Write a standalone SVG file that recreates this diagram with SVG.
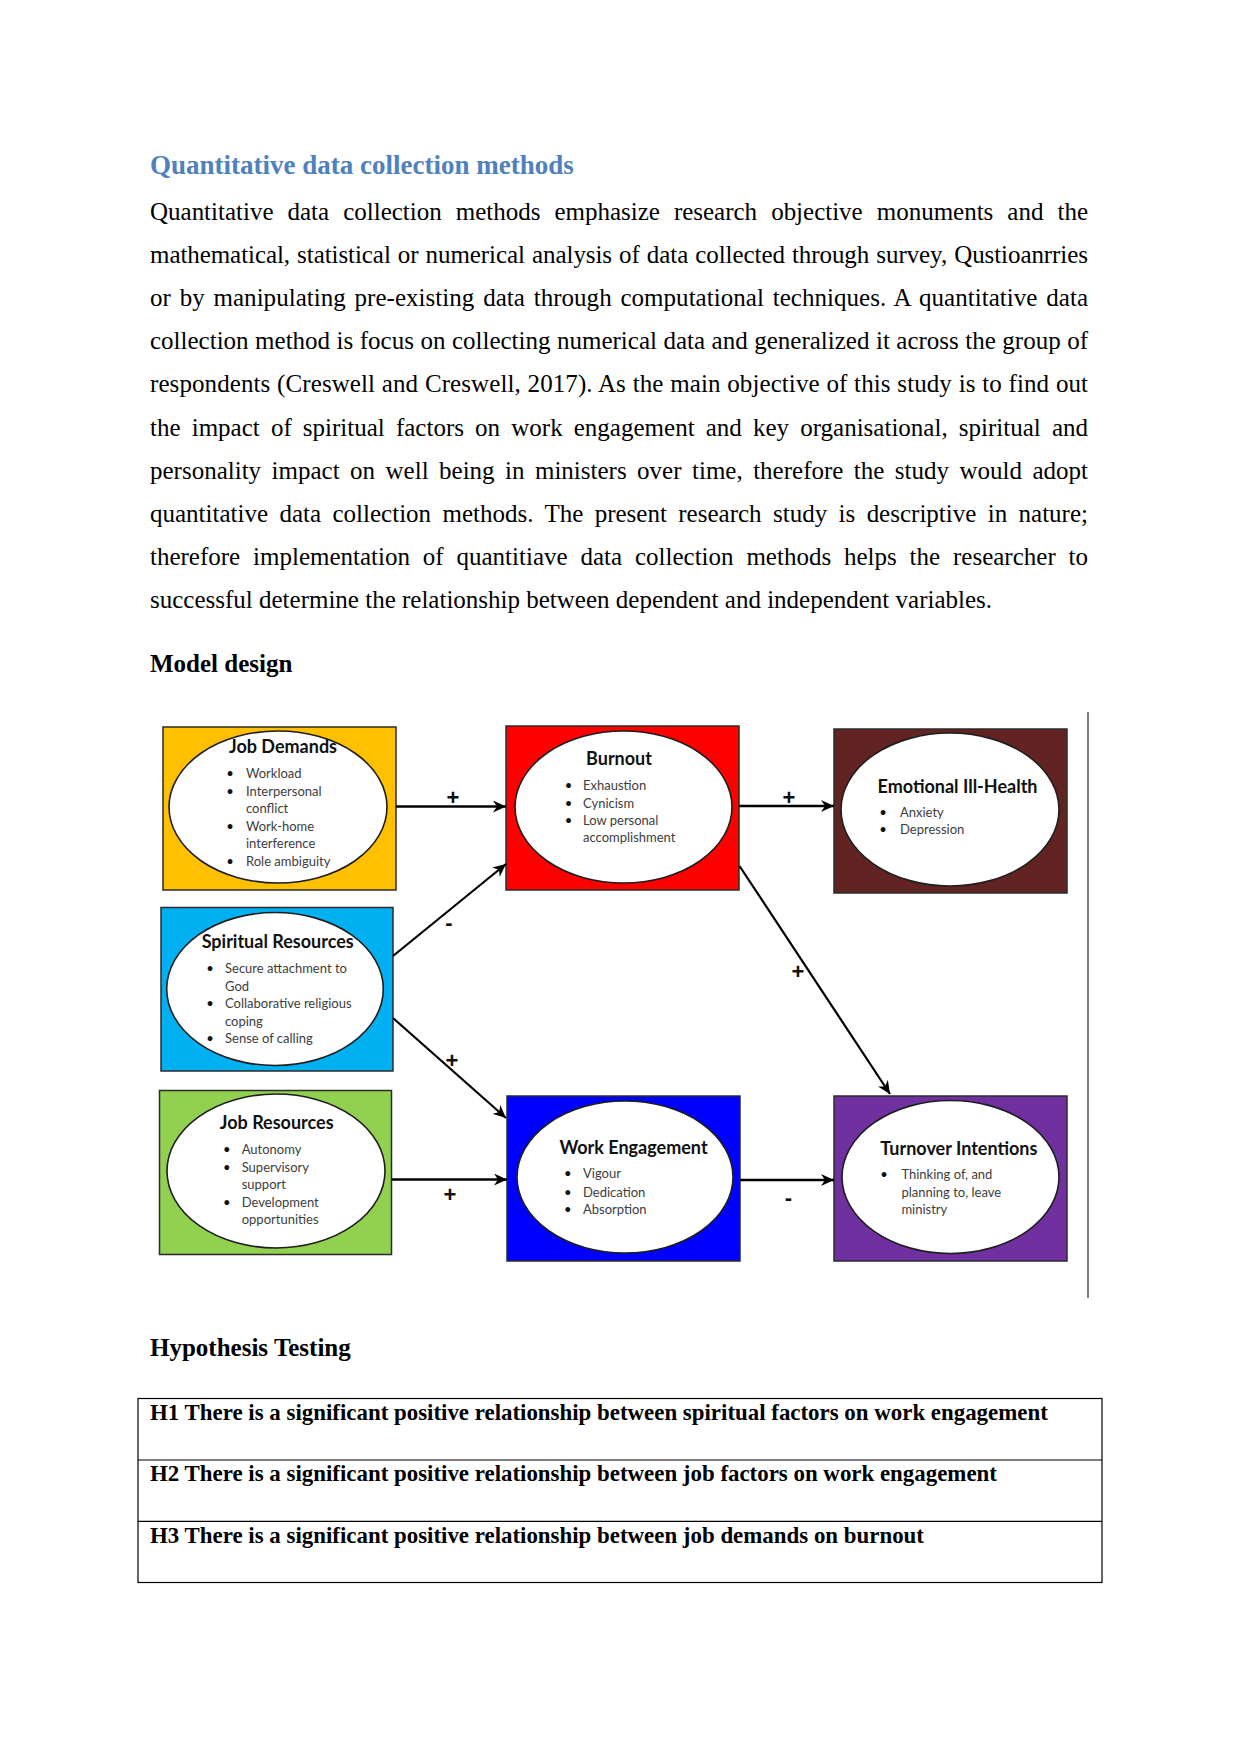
<svg xmlns="http://www.w3.org/2000/svg" width="1241" height="1754" viewBox="0 0 1241 1754">
<style>
.h1{font-family:"Liberation Serif","Times New Roman",serif;font-size:27px;font-weight:bold;fill:#4F81BD}
.body{font-family:"Liberation Serif","Times New Roman",serif;font-size:25px;fill:#000}
.sub{font-family:"Liberation Serif","Times New Roman",serif;font-size:25px;font-weight:bold;fill:#000}
.hyp{font-family:"Liberation Serif","Times New Roman",serif;font-size:22.9px;font-weight:bold;fill:#000}
.box{stroke:#2b2b2b;stroke-width:1.5}
.ell{fill:#fff;stroke:#1e1e1e;stroke-width:1.6}
.ttl{font-family:Lato,"Noto Sans",sans-serif;font-size:18px;font-weight:bold;fill:#111;text-anchor:middle}
.itm{font-family:Lato,"Noto Sans",sans-serif;font-size:13px;fill:#3d3d3d}
.bul{font-family:Lato,"Noto Sans",sans-serif;font-size:13px;fill:#111;text-anchor:middle}
.lbl{font-family:"Liberation Sans",Arial,sans-serif;font-size:22px;font-weight:bold;fill:#111;text-anchor:middle}
.arr{stroke:#000;fill:none;marker-end:url(#ah)}
.tbl{fill:none;stroke:#000;stroke-width:1.2}
</style>
<defs>
<marker id="ah" markerUnits="userSpaceOnUse" markerWidth="14" markerHeight="12" refX="13" refY="6" orient="auto">
<path d="M0,0 L13,6 L0,12 L4,6 z" fill="#000"/>
</marker>
</defs>
<rect width="1241" height="1754" fill="#fff"/>

<text class="h1" x="150" y="174">Quantitative data collection methods</text>

<g id="paragraph">
<text class="body" x="150" y="220" word-spacing="7.8" textLength="938" lengthAdjust="spacing">Quantitative data collection methods emphasize research objective monuments and the</text>
<text class="body" x="150" y="263.1" word-spacing="0.9" textLength="938" lengthAdjust="spacing">mathematical, statistical or numerical analysis of data collected through survey, Qustioanrries</text>
<text class="body" x="150" y="306.2" word-spacing="2.5" textLength="938" lengthAdjust="spacing">or by manipulating pre-existing data through computational techniques. A quantitative data</text>
<text class="body" x="150" y="349.3" word-spacing="0.24" textLength="938" lengthAdjust="spacing">collection method is focus on collecting numerical data and generalized it across the group of</text>
<text class="body" x="150" y="392.4" word-spacing="0.38" textLength="938" lengthAdjust="spacing">respondents (Creswell and Creswell, 2017). As the main objective of this study is to find out</text>
<text class="body" x="150" y="435.5" word-spacing="4.86" textLength="938" lengthAdjust="spacing">the impact of spiritual factors on work engagement and key organisational, spiritual and</text>
<text class="body" x="150" y="478.6" word-spacing="4.2" textLength="938" lengthAdjust="spacing">personality impact on well being in ministers over time, therefore the study would adopt</text>
<text class="body" x="150" y="521.7" word-spacing="5.15" textLength="938" lengthAdjust="spacing">quantitative data collection methods. The present research study is descriptive in nature;</text>
<text class="body" x="150" y="564.8" word-spacing="6.6" textLength="938" lengthAdjust="spacing">therefore implementation of quantitiave data collection methods helps the researcher to</text>
<text class="body" x="150" y="607.9">successful determine the relationship between dependent and independent variables.</text>
</g>

<text class="sub" x="150" y="672">Model design</text>

<line x1="1088" y1="712" x2="1088" y2="1298" stroke="#555" stroke-width="1.5"/>

<g id="job-demands">
<rect class="box" x="163" y="727" width="233" height="163" fill="#FFC000"/>
<ellipse class="ell" cx="278" cy="807" rx="109" ry="76"/>
<text class="ttl" x="283" y="753">Job Demands</text>
<text class="bul" x="230" y="778">•</text><text class="itm" x="246" y="778">Workload</text>
<text class="bul" x="230" y="795.5">•</text><text class="itm" x="246" y="795.5">Interpersonal</text>
<text class="itm" x="246" y="813">conflict</text>
<text class="bul" x="230" y="830.5">•</text><text class="itm" x="246" y="830.5">Work-home</text>
<text class="itm" x="246" y="848">interference</text>
<text class="bul" x="230" y="865.5">•</text><text class="itm" x="246" y="865.5">Role ambiguity</text>
</g>

<g id="burnout">
<rect class="box" x="506" y="726" width="233" height="164" fill="#FF0000"/>
<ellipse class="ell" cx="623.5" cy="807" rx="108.5" ry="76"/>
<text class="ttl" x="619" y="765">Burnout</text>
<text class="bul" x="568.5" y="790">•</text><text class="itm" x="583" y="790">Exhaustion</text>
<text class="bul" x="568.5" y="807.5">•</text><text class="itm" x="583" y="807.5">Cynicism</text>
<text class="bul" x="568.5" y="825">•</text><text class="itm" x="583" y="825">Low personal</text>
<text class="itm" x="583" y="842">accomplishment</text>
</g>

<g id="emotional-ill-health">
<rect class="box" x="834" y="729" width="233" height="164" fill="#622422"/>
<ellipse class="ell" cx="950" cy="809.5" rx="109" ry="76.5"/>
<text class="ttl" x="957.5" y="793">Emotional Ill-Health</text>
<text class="bul" x="883" y="816.5">•</text><text class="itm" x="900" y="816.5">Anxiety</text>
<text class="bul" x="883" y="834">•</text><text class="itm" x="900" y="834">Depression</text>
</g>

<g id="spiritual-resources">
<rect class="box" x="161" y="907.5" width="232" height="163.5" fill="#00B0F0"/>
<ellipse class="ell" cx="275" cy="989" rx="108.3" ry="76.5"/>
<text class="ttl" x="277.7" y="948">Spiritual Resources</text>
<text class="bul" x="210" y="973.3">•</text><text class="itm" x="225" y="973.3">Secure attachment to</text>
<text class="itm" x="225" y="990.5">God</text>
<text class="bul" x="210" y="1008">•</text><text class="itm" x="225" y="1008">Collaborative religious</text>
<text class="itm" x="225" y="1025.5">coping</text>
<text class="bul" x="210" y="1043">•</text><text class="itm" x="225" y="1043">Sense of calling</text>
</g>

<g id="job-resources">
<rect class="box" x="159.5" y="1090.5" width="232" height="164" fill="#92D050"/>
<ellipse class="ell" cx="276" cy="1171" rx="109" ry="77"/>
<text class="ttl" x="276.7" y="1129">Job Resources</text>
<text class="bul" x="226.7" y="1154">•</text><text class="itm" x="241.7" y="1154">Autonomy</text>
<text class="bul" x="226.7" y="1171.5">•</text><text class="itm" x="241.7" y="1171.5">Supervisory</text>
<text class="itm" x="241.7" y="1189">support</text>
<text class="bul" x="226.7" y="1206.5">•</text><text class="itm" x="241.7" y="1206.5">Development</text>
<text class="itm" x="241.7" y="1223.5">opportunities</text>
</g>

<g id="work-engagement">
<rect class="box" x="507" y="1096" width="233" height="165" fill="#0000FF"/>
<ellipse class="ell" cx="625" cy="1177" rx="108" ry="76"/>
<text class="ttl" x="633.5" y="1154">Work Engagement</text>
<text class="bul" x="567.7" y="1178.3">•</text><text class="itm" x="583" y="1178.3">Vigour</text>
<text class="bul" x="567.7" y="1196.5">•</text><text class="itm" x="583" y="1196.5">Dedication</text>
<text class="bul" x="567.7" y="1214">•</text><text class="itm" x="583" y="1214">Absorption</text>
</g>

<g id="turnover-intentions">
<rect class="box" x="834" y="1096" width="233" height="165" fill="#7030A0"/>
<ellipse class="ell" cx="950.5" cy="1177" rx="108.5" ry="76.5"/>
<text class="ttl" x="958.8" y="1155">Turnover Intentions</text>
<text class="bul" x="884" y="1179.3">•</text><text class="itm" x="901.4" y="1179.3">Thinking of, and</text>
<text class="itm" x="901.4" y="1196.7">planning to, leave</text>
<text class="itm" x="901.4" y="1214">ministry</text>
</g>

<g id="connectors">
<line class="arr" x1="396" y1="806.5" x2="506" y2="806.5" stroke-width="2.5"/>
<text class="lbl" x="453" y="805">+</text>
<line class="arr" x1="739" y1="806" x2="834" y2="806" stroke-width="2.5"/>
<text class="lbl" x="789" y="805">+</text>
<line class="arr" x1="393" y1="956" x2="506" y2="864" stroke-width="2.2"/>
<text class="lbl" x="449" y="930">-</text>
<line class="arr" x1="393" y1="1018" x2="506" y2="1118" stroke-width="2.2"/>
<text class="lbl" x="452" y="1068">+</text>
<line class="arr" x1="739.5" y1="866" x2="890" y2="1094" stroke-width="2.2"/>
<text class="lbl" x="798" y="979">+</text>
<line class="arr" x1="392" y1="1179.5" x2="507" y2="1179.5" stroke-width="2.5"/>
<text class="lbl" x="450" y="1202">+</text>
<line class="arr" x1="740" y1="1180" x2="834" y2="1180" stroke-width="2.5"/>
<text class="lbl" x="788.5" y="1205">-</text>
</g>

<text class="sub" x="150" y="1356">Hypothesis Testing</text>

<g id="hypothesis-table">
<rect class="tbl" x="138" y="1398.5" width="964" height="184"/>
<line class="tbl" x1="138" y1="1460" x2="1102" y2="1460"/>
<line class="tbl" x1="138" y1="1521.3" x2="1102" y2="1521.3"/>
<text class="hyp" x="150" y="1419.5">H1 There is a significant positive relationship between spiritual factors on work engagement</text>
<text class="hyp" x="150" y="1481">H2 There is a significant positive relationship between job factors on work engagement</text>
<text class="hyp" x="150" y="1542.5">H3 There is a significant positive relationship between job demands on burnout</text>
</g>
</svg>
